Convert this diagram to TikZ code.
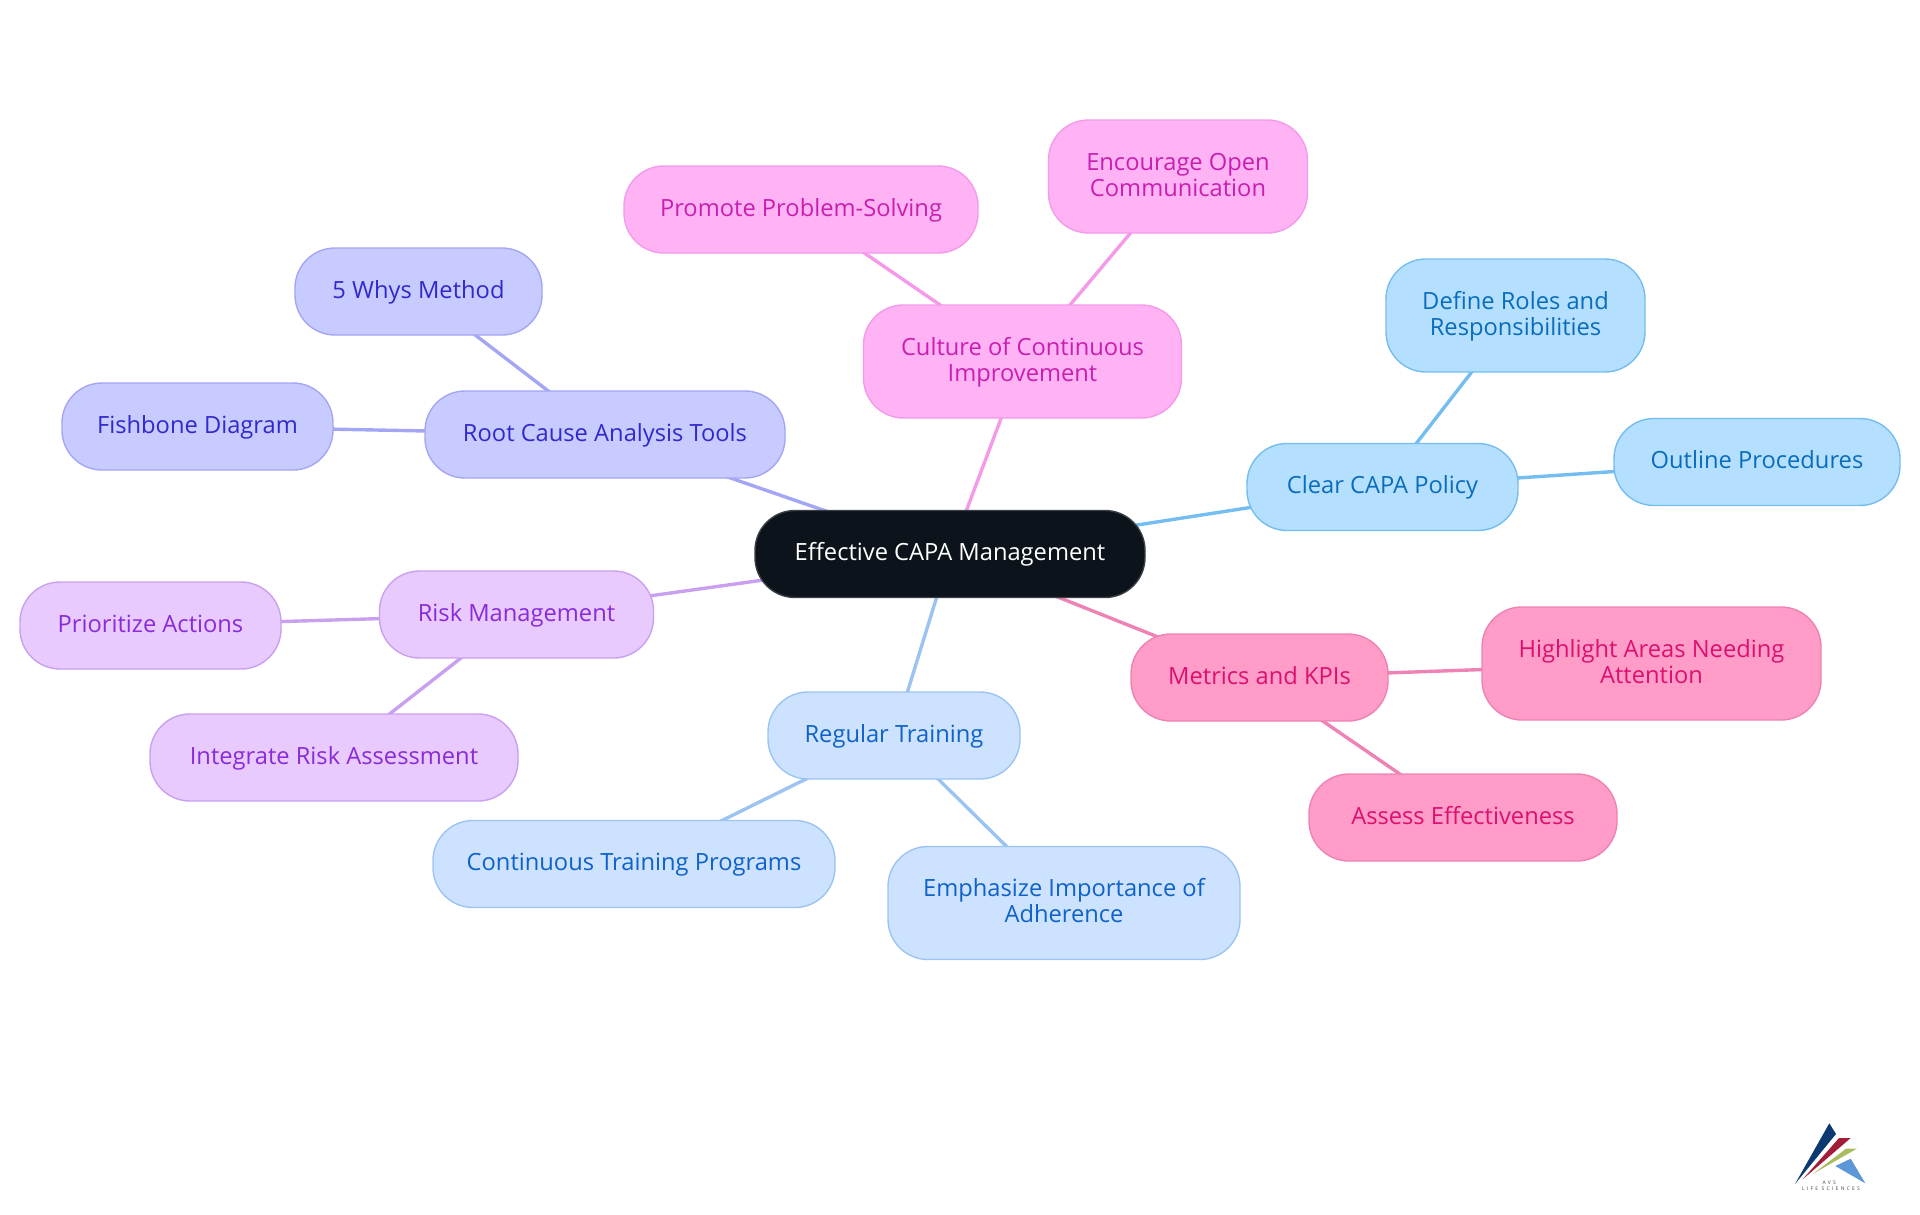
\documentclass[tikz,border=0pt]{standalone}
\usepackage{fontspec}
\setmainfont{Open Sans}
\newfontfamily\logofont[LetterSpace=45]{Open Sans}
\usetikzlibrary{backgrounds}
\definecolor{hubfill}{HTML}{0D131A}
\definecolor{hubedge}{HTML}{3A3F45}
\definecolor{culturefill}{HTML}{FFB3F5}
\definecolor{cultureedge}{HTML}{F49AE8}
\definecolor{culturetext}{HTML}{C81FB0}
\definecolor{metricsfill}{HTML}{FF9CC8}
\definecolor{metricsedge}{HTML}{EE82B4}
\definecolor{metricstext}{HTML}{DB1070}
\definecolor{policyfill}{HTML}{B5DFFF}
\definecolor{policyedge}{HTML}{74BDF0}
\definecolor{policytext}{HTML}{0A6DBB}
\definecolor{trainingfill}{HTML}{CCE2FF}
\definecolor{trainingedge}{HTML}{9CC4F2}
\definecolor{trainingtext}{HTML}{0F62C8}
\definecolor{riskfill}{HTML}{E8CAFF}
\definecolor{riskedge}{HTML}{C9A0F0}
\definecolor{risktext}{HTML}{8A2BD8}
\definecolor{toolsfill}{HTML}{C8CBFF}
\definecolor{toolsedge}{HTML}{A3A6F5}
\definecolor{toolstext}{HTML}{3228CC}
\definecolor{logonavy}{HTML}{0B3A70}
\definecolor{logored}{HTML}{A31D38}
\definecolor{logogreen}{HTML}{A9BC60}
\definecolor{logoblue}{HTML}{5C97D8}
\newcommand{\capastrut}{\rule[-6.5pt]{0pt}{26pt}}
\tikzset{
    capa/.style={rectangle,rounded corners=40pt,line width=1.4pt,align=center,inner sep=0pt,font=\fontsize{23.7}{26}\selectfont,execute at begin node=\capastrut,execute at end node=\capastrut},
    hubnode/.style={capa,fill=hubfill,draw=hubedge,text=white},
    branch/.style={capa,fill=#1fill,draw=#1edge,text=#1text},
    link/.style={#1edge,line width=3.4pt},
    logotext/.style={inner sep=0pt,text=black!75,font=\logofont\fontsize{5}{6}\selectfont},
}
\begin{document}
\begin{tikzpicture}[x=1pt,y=-1pt]
    \useasboundingbox (0,0) rectangle (1920,1215);
    \node[hubnode,minimum width=390pt,minimum height=87pt] (hub) at (950,554) {Effective CAPA Management};
    \node[branch=culture,minimum width=318pt,minimum height=113pt] (culture) at (1022.5,361.5) {\capastrut Culture of Continuous\\Improvement};
    \node[branch=culture,minimum width=259pt,minimum height=113pt] (encourage) at (1178,176.5) {\capastrut Encourage Open\\Communication};
    \node[branch=culture,minimum width=354pt,minimum height=87pt] (promote) at (801,209.5) {Promote Problem-Solving};
    \node[branch=tools,minimum width=360pt,minimum height=87pt] (tools) at (605,434.5) {Root Cause Analysis Tools};
    \node[branch=tools,minimum width=247pt,minimum height=87pt] (whys) at (418.5,291.5) {5 Whys Method};
    \node[branch=tools,minimum width=271pt,minimum height=87pt] (fishbone) at (197.5,426.5) {Fishbone Diagram};
    \node[branch=policy,minimum width=271pt,minimum height=87pt] (policy) at (1382.5,487) {Clear CAPA Policy};
    \node[branch=policy,minimum width=259pt,minimum height=113pt] (roles) at (1515.5,315.5) {\capastrut Define Roles and\\Responsibilities};
    \node[branch=policy,minimum width=286pt,minimum height=87pt] (procedures) at (1757,462) {Outline Procedures};
    \node[branch=risk,minimum width=274pt,minimum height=87pt] (risk) at (516.5,614.5) {Risk Management};
    \node[branch=risk,minimum width=261pt,minimum height=87pt] (prioritize) at (150.5,625.5) {Prioritize Actions};
    \node[branch=risk,minimum width=368pt,minimum height=87pt] (integrate) at (334,757.5) {Integrate Risk Assessment};
    \node[branch=training,minimum width=252pt,minimum height=87pt] (training) at (894,735.5) {Regular Training};
    \node[branch=training,minimum width=402pt,minimum height=87pt] (programs) at (634,864) {Continuous Training Programs};
    \node[branch=training,minimum width=352pt,minimum height=113pt] (adherence) at (1064,903) {\capastrut Emphasize Importance of\\Adherence};
    \node[branch=metrics,minimum width=257pt,minimum height=87pt] (metrics) at (1259.5,677.5) {Metrics and KPIs};
    \node[branch=metrics,minimum width=339pt,minimum height=113pt] (highlight) at (1651.5,663.5) {\capastrut Highlight Areas Needing\\Attention};
    \node[branch=metrics,minimum width=308pt,minimum height=87pt] (assess) at (1463,817.5) {Assess Effectiveness};
    \begin{scope}[on background layer]
        \foreach \a/\b/\c in {hub/culture/culture,culture/encourage/culture,culture/promote/culture,hub/tools/tools,tools/whys/tools,tools/fishbone/tools,hub/policy/policy,policy/roles/policy,policy/procedures/policy,hub/risk/risk,risk/prioritize/risk,risk/integrate/risk,hub/training/training,training/programs/training,training/adherence/training,hub/metrics/metrics,metrics/highlight/metrics,metrics/assess/metrics}
            \draw[link=\c] (\a.center) -- (\b.center);
    \end{scope}
    \fill[logonavy] (1795,1184) -- (1829.3,1123.3) -- (1836,1134) -- cycle;
    \fill[logored] (1802.7,1179.3) -- (1839,1138) -- (1850.7,1138) -- cycle;
    \fill[logogreen] (1812.7,1174) -- (1846,1148.7) -- (1856.7,1148.7) -- cycle;
    \fill[logoblue] (1835.3,1166) -- (1850.7,1158.7) -- (1865.3,1183.3) -- cycle;
    \node[logotext] (avs) at (1829.3,1182.3) {AVS};
    \node[logotext] (life) at (1831,1189) {LIFE SCIENCES};
\end{tikzpicture}
\end{document}
